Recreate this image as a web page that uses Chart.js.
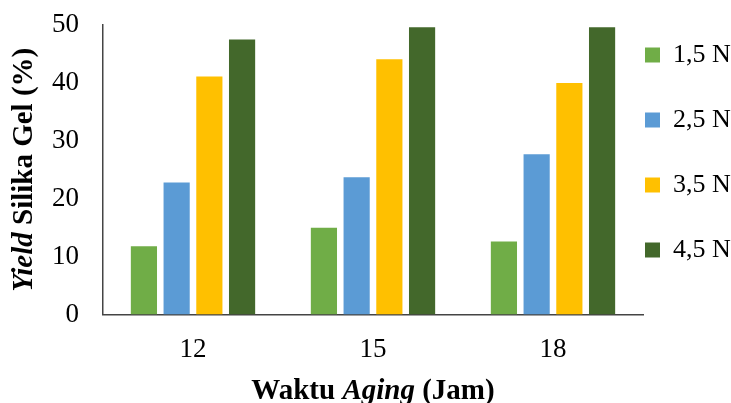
<!DOCTYPE html>
<html>
<head>
<meta charset="utf-8">
<script src="https://cdn.jsdelivr.net/npm/chart.js@4"></script>
<style>
  html, body { margin: 0; padding: 0; background: #fff; }
  #wrap { width: 731px; height: 403px; }
</style>
</head>
<body>
<div id="wrap"><canvas id="myChart"></canvas></div>
<script>
// data
const categories = ["12", "15", "18"];
const seriesNames = ["1,5 N", "2,5 N", "3,5 N", "4,5 N"];
const yield15 = [11.8, 15.0, 12.6];
const yield25 = [22.8, 23.7, 27.7];
const yield35 = [41.1, 44.1, 40.0];
const yield45 = [47.5, 49.6, 49.6];
const yTicks = [0, 10, 20, 30, 40, 50];

const colors = ["#70AD47", "#5B9BD5", "#FFC000", "#43682B"];
const serif = "'Liberation Serif', 'Times New Roman', serif";

// axis titles with mixed bold / bold-italic parts
const titlePlugin = {
    id: 'mixedTitles',
    afterDraw(chart) {
        const ctx = chart.ctx;
        const area = chart.chartArea;
        const size = 29;
        const bold = 'bold ' + size + 'px ' + serif;
        const boldIt = 'italic bold ' + size + 'px ' + serif;
        function drawParts(parts, cx, cy, angle) {
            ctx.save();
            ctx.translate(cx, cy);
            ctx.rotate(angle);
            ctx.fillStyle = '#000';
            ctx.textBaseline = 'middle';
            ctx.textAlign = 'left';
            let total = 0;
            parts.forEach(p => { ctx.font = p[1]; total += ctx.measureText(p[0]).width; });
            let x = -total / 2;
            parts.forEach(p => {
                ctx.font = p[1];
                ctx.fillText(p[0], x, 0);
                x += ctx.measureText(p[0]).width;
            });
            ctx.restore();
        }
        drawParts([["Yield", boldIt], [" Silika Gel (%)", bold]],
            area.left - 78, (area.top + area.bottom) / 2, -Math.PI / 2);
        drawParts([["Waktu ", bold], ["Aging", boldIt], [" (Jam)", bold]],
            (area.left + area.right) / 2, area.bottom + 77, 0);
    }
};

const values = [yield15, yield25, yield35, yield45];
const datasets = seriesNames.map((name, i) => ({
    label: name,
    data: values[i],
    backgroundColor: colors[i],
    borderWidth: 0,
    categoryPercentage: 0.727,
    barPercentage: 0.8
}));

let canvas = document.getElementById("myChart");
var ctx = canvas.getContext("2d");
var chart = new Chart(ctx, {
    type: 'bar',
    data: {
        labels: categories,
        datasets: datasets
    },
    options: {
        responsive: true,
        maintainAspectRatio: false,
        animation: false,
        layout: {
            padding: { left: 52, top: 25, right: 0, bottom: 37 }
        },
        plugins: {
            tooltip: { enabled: false },
            legend: {
                position: 'right',
                align: 'start',
                maxWidth: 88,
                title: {
                    display: true,
                    text: ' ',
                    font: { size: 10 },
                    padding: { top: 0, bottom: 3 }
                },
                labels: {
                    boxWidth: 15,
                    boxHeight: 15,
                    padding: 2,
                    color: '#000',
                    font: { family: serif, size: 26, lineHeight: '63px' },
                    generateLabels(chart) {
                        const items = Chart.defaults.plugins.legend.labels.generateLabels(chart);
                        items.forEach(it => { it.text = [it.text]; it.lineWidth = 0; });
                        return items;
                    }
                }
            }
        },
        scales: {
            x: {
                // tick marks are invisible, their length just spaces the labels
                grid: { display: false, drawTicks: true, tickLength: 19 },
                border: { display: true, color: '#444', width: 1.5 },
                ticks: {
                    color: '#000',
                    padding: 0,
                    font: { family: serif, size: 27 }
                }
            },
            y: {
                min: 0,
                max: 50,
                afterBuildTicks(scale) {
                    scale.ticks = yTicks.map(v => ({ value: v }));
                },
                grid: { display: false, drawTicks: true, tickLength: 24 },
                border: { display: true, color: '#444', width: 1.5 },
                ticks: {
                    color: '#000',
                    padding: 0,
                    font: { family: serif, size: 27 }
                }
            }
        }
    },
    plugins: [titlePlugin]
});
</script>
</body>
</html>
